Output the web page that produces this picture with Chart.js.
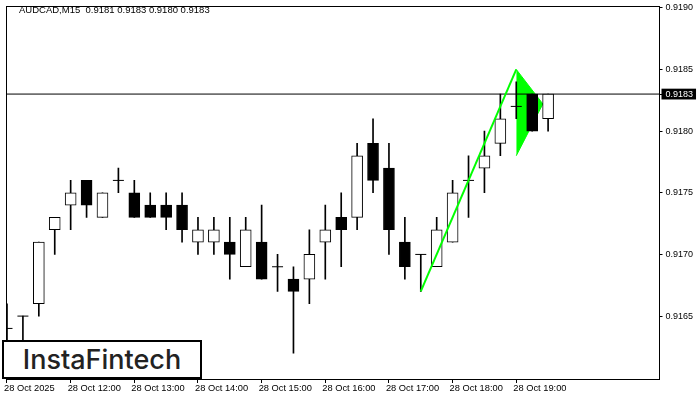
<!DOCTYPE html>
<html lang="en">
<head>
  <meta charset="UTF-8">
  <title>AUDCAD M15</title>
  <style>
    body {
      margin: 0;
      background-color: #ffffff;
    }
    .wrap {
      position: relative;
      width: 700px;
      height: 400px;
    }
    canvas {
      display: block;
    }
    .head {
      position: absolute;
      left: 19px;
      top: 4px;
      font: 9.5px 'Liberation Sans', Arial, sans-serif;
      line-height: 12px;
      white-space: pre;
      color: #000;
    }
    .logo {
      position: absolute;
      left: 2px;
      top: 340px;
      width: 196px;
      height: 35px;
      border: 2px solid #000;
      background-color: #fff;
      font-family: 'Inter', sans-serif;
      font-weight: 500;
      font-size: 27px;
      line-height: 35px;
      text-align: center;
      color: #222;
    }
  </style>
</head>
<body>
  <div class="wrap">
    <canvas id="chart" width="700" height="400"></canvas>
    <div class="head" id="head"></div>
    <div class="logo">InstaFintech</div>
  </div>

  <script src="https://cdn.jsdelivr.net/npm/chart.js"></script>
  <script>
    // AUDCAD M15 candles, one per 15 minutes starting 28 Oct 11:00
    const openP  = [0.9164, 0.9165, 0.9166, 0.9172, 0.9174, 0.9176, 0.9173, 0.9176, 0.9175, 0.9174, 0.9174, 0.9174,
                    0.9171, 0.9171, 0.9171, 0.9169, 0.9171, 0.9169, 0.9168, 0.9168, 0.9171, 0.9173, 0.9173, 0.9179,
                    0.9177, 0.9171, 0.9170, 0.9169, 0.9171, 0.9176, 0.9177, 0.9179, 0.9182, 0.9183, 0.9181];
    const highP  = [0.9166, 0.9165, 0.9171, 0.9173, 0.9176, 0.9176, 0.9175, 0.9177, 0.9176, 0.9175, 0.9175, 0.9175,
                    0.9173, 0.9173, 0.9173, 0.9173, 0.9174, 0.9170, 0.9169, 0.9172, 0.9174, 0.9175, 0.9179, 0.9181,
                    0.9179, 0.9173, 0.9170, 0.9173, 0.9176, 0.9178, 0.9180, 0.9183, 0.9184, 0.9183, 0.9183];
    const lowP   = [0.9162, 0.9162, 0.9165, 0.9170, 0.9172, 0.9173, 0.9173, 0.9175, 0.9173, 0.9173, 0.9172, 0.9171,
                    0.9170, 0.9170, 0.9168, 0.9169, 0.9168, 0.9167, 0.9162, 0.9166, 0.9168, 0.9169, 0.9172, 0.9175,
                    0.9170, 0.9168, 0.9167, 0.9169, 0.9171, 0.9173, 0.9175, 0.9178, 0.9181, 0.9180, 0.9180];
    const closeP = [0.9164, 0.9165, 0.9171, 0.9173, 0.9175, 0.9174, 0.9175, 0.9176, 0.9173, 0.9173, 0.9173, 0.9172,
                    0.9172, 0.9172, 0.9170, 0.9172, 0.9168, 0.9169, 0.9167, 0.9170, 0.9172, 0.9172, 0.9178, 0.9176,
                    0.9172, 0.9169, 0.9170, 0.9172, 0.9175, 0.9176, 0.9178, 0.9181, 0.9182, 0.9180, 0.9183];

    const timeIdx = [0, 4, 8, 12, 16, 20, 24, 28, 32];
    const timeText = ['28 Oct 2025', '28 Oct 12:00', '28 Oct 13:00', '28 Oct 14:00', '28 Oct 15:00',
                      '28 Oct 16:00', '28 Oct 17:00', '28 Oct 18:00', '28 Oct 19:00'];
    const priceTicks = [0.9165, 0.9170, 0.9175, 0.9180, 0.9183, 0.9185, 0.9190];
    const lastPrice = 0.9183;

    // bullish pennant: pole and flag
    const poleIdx = [26, 32];
    const polePrice = [0.9167, 0.9185];
    const flagIdx = [32, 33.67];
    const flagTop = [0.9185, 0.91822];
    const flagBottom = [0.9178, 0.91822];

    const header = 'AUDCAD,M15  0.9181 0.9183 0.9180 0.9183';
    document.getElementById('head').textContent = header;

    const xMin = -0.03125;
    const xMax = 41.0;

    const idx = openP.map((_, i) => i);
    const wickData = idx.map(i => ({ x: i, y: [lowP[i], highP[i]] }));
    const bodyIdx = idx.filter(i => openP[i] !== closeP[i]);
    const bodyData = bodyIdx.map(i => ({ x: i, y: [openP[i], closeP[i]] }));
    const bodyFill = bodyIdx.map(i => closeP[i] > openP[i] ? '#ffffff' : '#000000');
    const dojiData = idx.filter(i => openP[i] === closeP[i]).map(i => ({ x: i, y: openP[i] }));

    const fontFamily = "'Liberation Sans', Arial, sans-serif";

    // no extra label padding around the plot, the frame sits at the canvas edges
    const noPad = s => { s.paddingTop = 0; s.paddingBottom = 0; s.paddingLeft = 0; s.paddingRight = 0; };

    new Chart(document.getElementById('chart'), {
      type: 'bar',
      data: {
        datasets: [
          {
            type: 'line',
            data: flagIdx.map((v, i) => ({ x: v, y: flagTop[i] })),
            borderColor: '#00ff00',
            backgroundColor: '#00ff00',
            borderWidth: 1,
            pointRadius: 0,
            fill: '+1',
            order: 6,
            xAxisID: 'x', yAxisID: 'y'
          },
          {
            type: 'line',
            data: flagIdx.map((v, i) => ({ x: v, y: flagBottom[i] })),
            borderColor: '#00ff00',
            borderWidth: 1,
            pointRadius: 0,
            fill: false,
            order: 6,
            xAxisID: 'x', yAxisID: 'y'
          },
          {
            type: 'line',
            data: [{ x: xMin, y: lastPrice }, { x: xMax, y: lastPrice }],
            borderColor: '#000000',
            borderWidth: 1,
            pointRadius: 0,
            order: 5,
            xAxisID: 'x', yAxisID: 'y'
          },
          {
            data: wickData,
            backgroundColor: '#000000',
            borderWidth: 0,
            barThickness: 1,
            grouped: false,
            order: 3,
            xAxisID: 'x', yAxisID: 'y'
          },
          {
            data: bodyData,
            backgroundColor: bodyFill,
            borderColor: '#000000',
            borderWidth: 1,
            borderSkipped: false,
            barThickness: 11,
            grouped: false,
            order: 2,
            xAxisID: 'x', yAxisID: 'y'
          },
          {
            type: 'line',
            data: dojiData,
            showLine: false,
            pointStyle: 'line',
            pointRadius: 5.5,
            pointBorderWidth: 1,
            borderColor: '#000000',
            order: 1,
            xAxisID: 'x', yAxisID: 'y'
          },
          {
            type: 'line',
            data: poleIdx.map((v, i) => ({ x: v, y: polePrice[i] })),
            borderColor: '#00ff00',
            borderWidth: 2,
            pointRadius: 0,
            order: 0,
            xAxisID: 'x', yAxisID: 'y'
          }
        ]
      },
      options: {
        responsive: false,
        animation: false,
        devicePixelRatio: 1,
        layout: { padding: { left: 3, top: 0, right: 0, bottom: 0 } },
        plugins: {
          legend: { display: false },
          tooltip: { enabled: false }
        },
        scales: {
          x: {
            type: 'linear',
            position: 'bottom',
            min: xMin,
            max: xMax,
            offset: false,
            grid: { drawOnChartArea: false, offset: false, color: '#000', tickLength: 4 },
            border: { color: '#000', width: 1 },
            ticks: {
              font: { family: fontFamily, size: 9.3 },
              color: '#000',
              align: 'start',
              labelOffset: -3,
              padding: 0,
              maxRotation: 0,
              autoSkip: false,
              callback: v => timeText[timeIdx.indexOf(v)]
            },
            afterBuildTicks: s => { s.ticks = timeIdx.map(v => ({ value: v })); },
            afterFit: s => { noPad(s); s.height = 21; }
          },
          y: {
            type: 'linear',
            position: 'right',
            min: 0.91599,
            max: 0.91901,
            grid: { drawOnChartArea: false, color: '#000', tickLength: 3 },
            border: { color: '#000', width: 1 },
            ticks: {
              font: { family: fontFamily, size: 9 },
              color: ctx => ctx.tick.value === lastPrice ? '#ffffff' : '#000000',
              showLabelBackdrop: true,
              backdropColor: ctx => ctx.tick.value === lastPrice ? '#000000' : 'rgba(0,0,0,0)',
              backdropPadding: { top: 0, bottom: 0, left: 4, right: 3 },
              padding: 3,
              autoSkip: false,
              callback: v => v.toFixed(4)
            },
            afterBuildTicks: s => { s.ticks = priceTicks.map(v => ({ value: v })); },
            afterFit: s => { noPad(s); s.width = 40.5; }
          },
          xTop: {
            type: 'linear',
            position: 'top',
            min: 0,
            max: 1,
            grid: { display: false, drawTicks: false },
            ticks: { display: false },
            border: { color: '#000', width: 1 },
            afterFit: s => { noPad(s); s.height = 3; }
          },
          yLeft: {
            type: 'linear',
            position: 'left',
            min: 0,
            max: 1,
            grid: { display: false, drawTicks: false },
            ticks: { display: false },
            border: { color: '#000', width: 1 },
            afterFit: s => { noPad(s); s.width = 0; }
          }
        }
      }
    });
  </script>
</body>
</html>
